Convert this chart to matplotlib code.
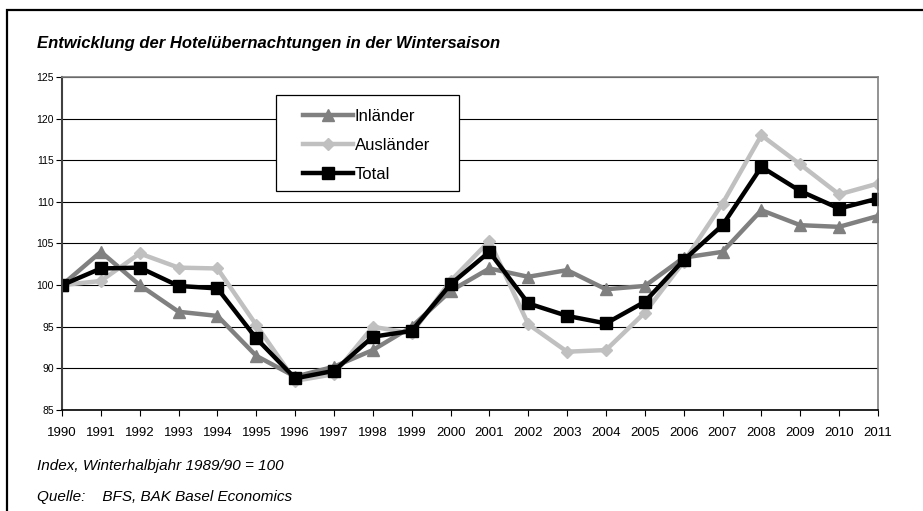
import numpy as np
import matplotlib.pyplot as plt
from matplotlib.patches import Rectangle

plt.rcParams['font.family'] = ['Liberation Sans', 'DejaVu Sans']

years = list(range(1990, 2012))
inlaender = [100, 104.0, 100.0, 96.8, 96.3, 91.5, 89.0, 90.2, 92.2, 95.0, 99.3,
             102.0, 101.0, 101.8, 99.5, 99.9, 103.3, 104.0, 109.0, 107.2, 107.0, 108.3]
auslaender = [100, 100.5, 103.8, 102.1, 102.0, 95.2, 88.5, 89.3, 95.0, 94.2, 100.5,
              105.3, 95.3, 92.0, 92.2, 96.7, 102.8, 109.8, 118.0, 114.5, 110.9, 112.2]
total = [100, 102.0, 102.1, 99.9, 99.6, 93.6, 88.8, 89.7, 93.8, 94.5, 100.1,
         104.0, 97.8, 96.3, 95.4, 98.0, 103.0, 107.2, 114.2, 111.3, 109.2, 110.4]

fig = plt.figure(figsize=(9.23, 5.11), dpi=100)
ax = fig.add_axes([0.0672, 0.1977, 0.884, 0.6516])

ax.plot(years, inlaender, color='#808080', lw=3.2, marker='^', ms=8, label='Inländer')
ax.plot(years, auslaender, color='#C0C0C0', lw=3.2, marker='D', ms=6, label='Ausländer')
ax.plot(years, total, color='black', lw=3.2, marker='s', ms=8.5, label='Total')

ax.set_xlim(1990, 2011)
ax.set_ylim(85, 125)
ax.set_xticks(years)
ax.set_yticks(range(85, 126, 5))
ax.tick_params(axis='x', labelsize=9.5, length=4, direction='out', pad=8)
ax.tick_params(axis='y', labelsize=7.5, length=4, direction='out', pad=2)
ax.yaxis.grid(True, color='black', lw=0.8)
ax.set_axisbelow(True)
for s in ['top', 'right']:
    ax.spines[s].set_color('#808080')
    ax.spines[s].set_linewidth(1.2)
ax.spines['left'].set_color('#404040')
ax.spines['left'].set_linewidth(1.5)
ax.spines['bottom'].set_color('black')
ax.spines['bottom'].set_linewidth(1.2)

# legend box (white, black edge) drawn separately, legend entries without frame
ax.add_patch(Rectangle((0.2623, 0.6577), 0.2242, 0.2883, transform=ax.transAxes,
                       facecolor='white', edgecolor='black', lw=0.9, zorder=5))
leg = ax.legend(loc='upper left', bbox_to_anchor=(0.2953, 0.905), fontsize=12,
                frameon=False, handlelength=3.0, handletextpad=0.12,
                borderpad=0, labelspacing=0.85, borderaxespad=0)
leg.set_zorder(6)

fig.text(37 / 923, 1 - 43 / 511, 'Entwicklung der Hotelübernachtungen in der Wintersaison',
         fontsize=12, fontweight='bold', fontstyle='italic', va='center', ha='left')
fig.text(37 / 923, 1 - 466 / 511, 'Index, Winterhalbjahr 1989/90 = 100',
         fontsize=11, fontstyle='italic', va='center', ha='left')
fig.text(37 / 923, 1 - 497 / 511, 'Quelle:    BFS, BAK Basel Economics',
         fontsize=11, fontstyle='italic', va='center', ha='left')

fig.patches.append(Rectangle((7 / 923, -0.1), 1.2, 1 - 10 / 511 + 0.1,
                             transform=fig.transFigure, fill=False,
                             edgecolor='black', lw=1.6))

fig.savefig('out.png', dpi=100)
